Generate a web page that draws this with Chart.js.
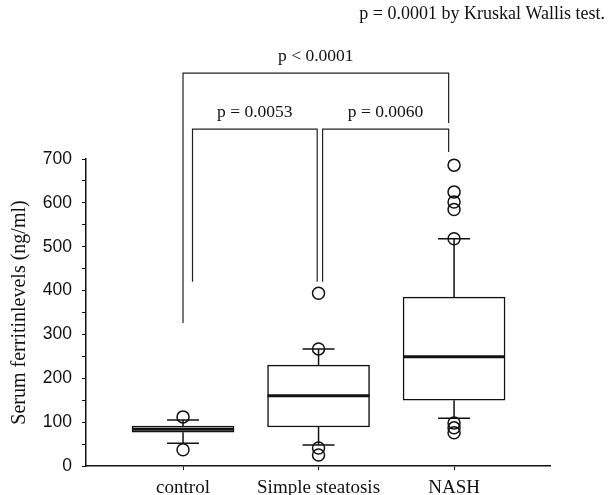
<!DOCTYPE html>
<html>
<head>
<meta charset="utf-8">
<script src="https://cdn.jsdelivr.net/npm/chart.js@4.4.0/dist/chart.umd.min.js"></script>
<style>
	body { margin: 0; background: #fff; }
	#wrap { width: 608px; height: 495px; }
</style>
</head>
<body>
<div id="wrap"><canvas id="Chart"></canvas></div>
<script>
/* box plot values (ng/ml) */
const categories = ['control', 'Simple steatosis', 'NASH']
const q1 = [77, 89, 150]
const median = [84, 160, 249]
const q3 = [91, 230, 385]
const whiskerLow = [52, 48, 109]
const whiskerHigh = [105, 267, 518]
const outliers = [
	[112, 37],
	[394, 267, 41, 25],
	[686, 625, 602, 585, 518, 98, 87, 76]
]
const yTicks = [0, 100, 200, 300, 400, 500, 600, 700]

/* pairwise tests, drawn as brackets over the boxes */
const comparisons = [
	{ label: 'p < 0.0001', from: 1, to: 2.96, level: 896, dropFrom: 326, dropTo: 782 },
	{ label: 'p = 0.0053', from: 1.07, to: 1.99, level: 768, dropFrom: 420, dropTo: 420 },
	{ label: 'p = 0.0060', from: 2.03, to: 2.96, level: 768, dropFrom: 420, dropTo: 716 }
]
const overallTest = 'p = 0.0001 by Kruskal Wallis test.'

const ink = '#111'
const serif = '"Liberation Serif", "DejaVu Serif", serif'
const BOX_WIDTH = 102
const CAP_WIDTH = 32

/* whiskers, caps and medians go on top of the box bars */
const boxParts = {
	id: 'boxParts',
	afterDatasetDraw(chart, args) {
		if (args.index !== 0) return
		const { ctx, scales: { x, y } } = chart
		ctx.save()
		ctx.strokeStyle = ink
		categories.forEach((c, i) => {
			const cx = x.getPixelForValue(i + 1)
			ctx.lineWidth = 1.5
			ctx.beginPath()
			ctx.moveTo(cx, y.getPixelForValue(q3[i]))
			ctx.lineTo(cx, y.getPixelForValue(whiskerHigh[i]))
			ctx.moveTo(cx, y.getPixelForValue(q1[i]))
			ctx.lineTo(cx, y.getPixelForValue(whiskerLow[i]))
			;[whiskerHigh[i], whiskerLow[i]].forEach((v) => {
				const py = y.getPixelForValue(v)
				ctx.moveTo(cx - CAP_WIDTH / 2, py)
				ctx.lineTo(cx + CAP_WIDTH / 2, py)
			})
			ctx.stroke()
			const my = y.getPixelForValue(median[i])
			ctx.lineWidth = 3
			ctx.beginPath()
			ctx.moveTo(cx - BOX_WIDTH / 2, my)
			ctx.lineTo(cx + BOX_WIDTH / 2, my)
			ctx.stroke()
		})
		ctx.restore()
	},
	afterDraw(chart) {
		const { ctx, scales: { x, y } } = chart
		ctx.save()
		ctx.strokeStyle = '#222'
		ctx.lineWidth = 1.2
		ctx.fillStyle = ink
		ctx.font = '17.5px ' + serif
		ctx.textAlign = 'center'
		ctx.textBaseline = 'middle'
		comparisons.forEach((b) => {
			const x0 = x.getPixelForValue(b.from)
			const x1 = x.getPixelForValue(b.to)
			const py = y.getPixelForValue(b.level)
			ctx.beginPath()
			ctx.moveTo(x0, y.getPixelForValue(b.dropFrom))
			ctx.lineTo(x0, py)
			ctx.lineTo(x1, py)
			ctx.lineTo(x1, y.getPixelForValue(b.dropTo))
			ctx.stroke()
			ctx.fillText(b.label, (x0 + x1) / 2, py - 17)
		})
		ctx.font = '18px ' + serif
		ctx.textAlign = 'right'
		ctx.fillText(overallTest, 605, 14)
		ctx.restore()
	}
}

new Chart('Chart', {
	type: 'bar',
	data: {
		datasets: [
			{
				type: 'bar',
				data: categories.map((c, i) => ({ x: i + 1, y: [q1[i], q3[i]] })),
				backgroundColor: '#fff',
				borderColor: ink,
				borderWidth: 1.5,
				borderSkipped: false,
				barThickness: BOX_WIDTH
			},
			{
				type: 'scatter',
				data: outliers.flatMap((vals, i) => vals.map((v) => ({ x: i + 1, y: v }))),
				pointRadius: 6,
				pointBorderWidth: 1.5,
				pointBorderColor: ink,
				pointBackgroundColor: 'rgba(0,0,0,0)',
				clip: false
			}
		]
	},
	options: {
		responsive: true,
		maintainAspectRatio: false,
		animation: false,
		events: [],
		layout: { padding: { top: 159, right: 58, left: 0, bottom: 0 } },
		plugins: { legend: { display: false }, tooltip: { enabled: false } },
		scales: {
			x: {
				type: 'linear',
				min: 0.284,
				max: 3.708,
				offset: false,
				afterBuildTicks: (scale) => { scale.ticks = categories.map((c, i) => ({ value: i + 1 })) },
				afterFit: (scale) => { scale.height = 29 },
				ticks: {
					callback: (v) => categories[v - 1],
					autoSkip: false,
					maxRotation: 0,
					color: ink,
					padding: 7,
					font: { family: serif, size: 19 }
				},
				grid: { drawOnChartArea: false, offset: false, tickLength: 4, color: ink },
				border: { color: ink, width: 1.5 }
			},
			y: {
				min: 0,
				max: 700,
				afterFit: (scale) => { scale.width = 86 },
				ticks: {
					stepSize: 50,
					autoSkip: false,
					callback: (v) => (yTicks.includes(v) ? v : ''),
					color: ink,
					padding: 10,
					font: { family: '"Liberation Sans", Arial, sans-serif', size: 17.5 }
				},
				grid: { drawOnChartArea: false, tickLength: 4, color: ink },
				border: { color: ink, width: 1.5 },
				title: {
					display: true,
					text: 'Serum ferritinlevels (ng/ml)',
					color: ink,
					font: { family: serif, size: 20 },
					padding: { top: 8, bottom: 0 }
				}
			}
		}
	},
	plugins: [boxParts]
})
</script>
</body>
</html>
